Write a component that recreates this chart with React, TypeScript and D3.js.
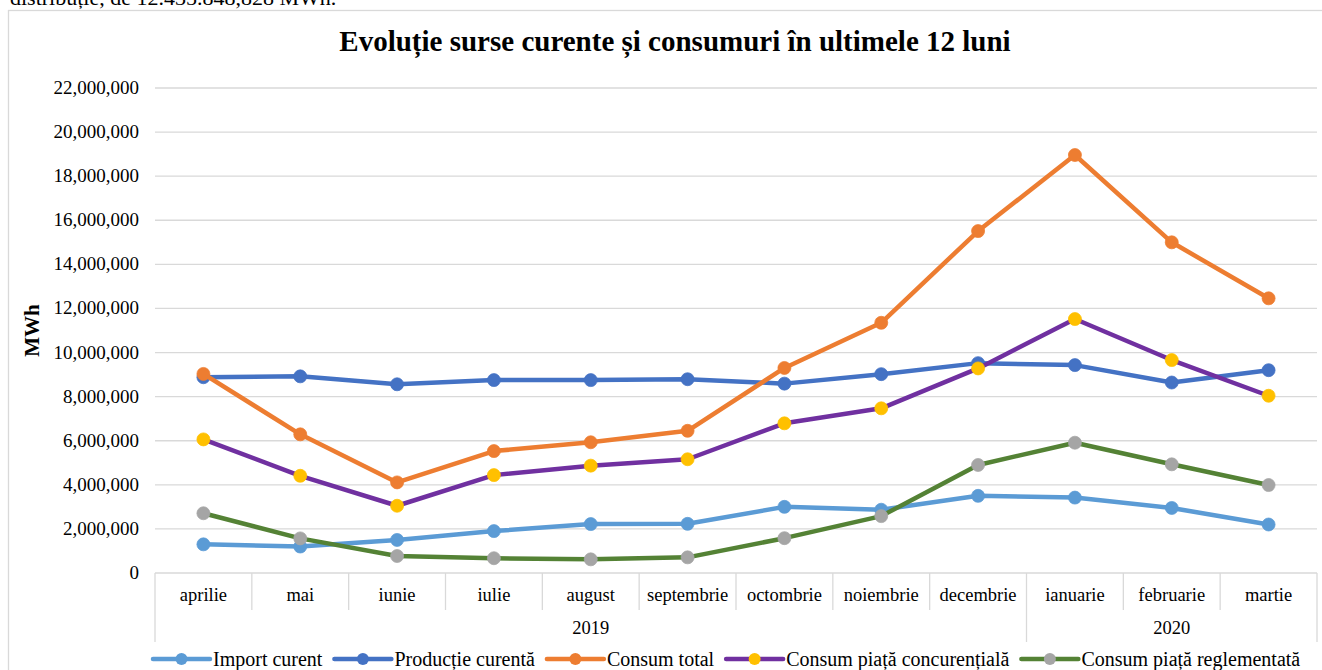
import React from "react";
import * as d3 from "d3";

const months = ["aprilie","mai","iunie","iulie","august","septembrie","octombrie","noiembrie","decembrie","ianuarie","februarie","martie"];
const years = [{ label: "2019", start: 0, end: 9 }, { label: "2020", start: 9, end: 12 }];
const yTicks = [0,2000000,4000000,6000000,8000000,10000000,12000000,14000000,16000000,18000000,20000000,22000000];

const importCurent = [1300000,1200000,1500000,1900000,2220000,2230000,3000000,2870000,3500000,3420000,2950000,2200000];
const productieCurenta = [8880000,8920000,8560000,8750000,8750000,8790000,8590000,9020000,9520000,9430000,8640000,9200000];
const consumTotal = [9030000,6290000,4110000,5530000,5930000,6450000,9300000,11350000,15510000,18960000,15000000,12460000];
const consumConcurential = [6060000,4410000,3050000,4440000,4870000,5160000,6790000,7470000,9280000,11520000,9660000,8040000];
const consumReglementat = [2710000,1570000,770000,670000,620000,710000,1580000,2580000,4900000,5910000,4930000,3990000];

const seriesNames = ["Import curent","Producție curentă","Consum total","Consum piață concurențială","Consum piață reglementată"];
const seriesValues = [importCurent, productieCurenta, consumTotal, consumConcurential, consumReglementat];
const lineColors = ["#5B9BD5","#4472C4","#ED7D31","#7030A0","#548235"];
const markerColors = ["#5B9BD5","#4472C4","#ED7D31","#FFC000","#A5A5A5"];

const FONT = "'Liberation Serif', 'Times New Roman', serif";

function measure(text: string, font: string): number {
  const c = document.createElement("canvas");
  const ctx = c.getContext("2d");
  if (!ctx) return text.length * 9;
  ctx.font = font;
  return ctx.measureText(text).width;
}

export default function App() {
  const W = 1322, H = 670;
  const plotL = 155, plotR = 1317, plotT = 88, plotB = 573;
  const x = d3.scaleBand<string>().domain(months).range([plotL, plotR]).padding(0);
  const y = d3.scaleLinear().domain([0, 22000000]).range([plotB, plotT]);
  const cx = (m: string) => (x(m) as number) + x.bandwidth() / 2;
  const fmt = d3.format(",");
  const line = d3.line<number>().x((_, i) => cx(months[i])).y(d => y(d));

  // legend layout
  const legSize = 20;
  const legFont = `${legSize}px ${FONT}`;
  const sampleW = 57;
  let lx = 153;
  const legendItems = seriesNames.map((name, i) => {
    const tw = measure(name, legFont);
    const item = { name, i, x: lx, tx: lx + sampleW + 3 };
    lx += sampleW + 3 + tw + 12;
    return item;
  });

  const boundaries = d3.range(months.length + 1).map(i => i === months.length ? plotR : (x(months[i]) as number));
  const yearBounds = new Set<number>();
  years.forEach(yr => { yearBounds.add(yr.start); yearBounds.add(yr.end); });

  return (
    <div style={{ position: "absolute", left: 0, top: 0 }}>
      <svg width={W} height={H} style={{ display: "block", background: "#fff" }}>
        <text x={10} y={5} fontFamily={FONT} fontSize={22} fill="#000">distribuție, de 12.435.848,828 MWh.</text>
        <rect x={8.5} y={10.5} width={1330} height={700} fill="#fff" stroke="#d9d9d9" strokeWidth={1.3} />
        <text x={675} y={51} textAnchor="middle" fontFamily={FONT} fontWeight="bold" fontSize={29} fill="#000">Evoluție surse curente și consumuri  în ultimele 12 luni</text>
        {/* gridlines */}
        {yTicks.map(t => (
          <line key={t} x1={plotL} x2={plotR} y1={y(t)} y2={y(t)} stroke="#d9d9d9" strokeWidth={1.3} />
        ))}
        {yTicks.map(t => (
          <text key={"l" + t} x={139} y={y(t) + 6} textAnchor="end" fontFamily={FONT} fontSize={19} fill="#000">{fmt(t)}</text>
        ))}
        <text transform={`translate(39,${(plotT + plotB) / 2}) rotate(-90)`} textAnchor="middle" fontFamily={FONT} fontWeight="bold" fontSize={21} fill="#000">MWh</text>
        {/* category axis table */}
        {boundaries.map((bx, i) => (
          <line key={"b" + i} x1={bx} x2={bx} y1={plotB} y2={yearBounds.has(i) ? 642 : 610} stroke="#d9d9d9" strokeWidth={1.3} />
        ))}
        {months.map(m => (
          <text key={m} x={cx(m)} y={601} textAnchor="middle" fontFamily={FONT} fontSize={18.5} fill="#000">{m}</text>
        ))}
        {years.map(yr => {
          const a = x(months[yr.start]) as number;
          const b = yr.end === months.length ? plotR : (x(months[yr.end]) as number);
          return <text key={yr.label} x={(a + b) / 2} y={634} textAnchor="middle" fontFamily={FONT} fontSize={18.5} fill="#000">{yr.label}</text>;
        })}
        {/* series */}
        {seriesValues.map((vals, si) => (
          <g key={si}>
            <path d={line(vals) || ""} fill="none" stroke={lineColors[si]} strokeWidth={4.5} strokeLinejoin="round" strokeLinecap="round" />
            {vals.map((v, i) => (
              <circle key={i} cx={cx(months[i])} cy={y(v)} r={6.5} fill={markerColors[si]} stroke={markerColors[si]} strokeWidth={0.75} />
            ))}
          </g>
        ))}
        {/* legend */}
        {legendItems.map(it => (
          <g key={it.name}>
            <line x1={it.x} x2={it.x + sampleW} y1={659} y2={659} stroke={lineColors[it.i]} strokeWidth={4.5} strokeLinecap="round" />
            <circle cx={it.x + sampleW / 2} cy={659} r={6} fill={markerColors[it.i]} />
            <text x={it.tx} y={666} fontFamily={FONT} fontSize={legSize} fill="#000">{it.name}</text>
          </g>
        ))}
      </svg>
    </div>
  );
}
